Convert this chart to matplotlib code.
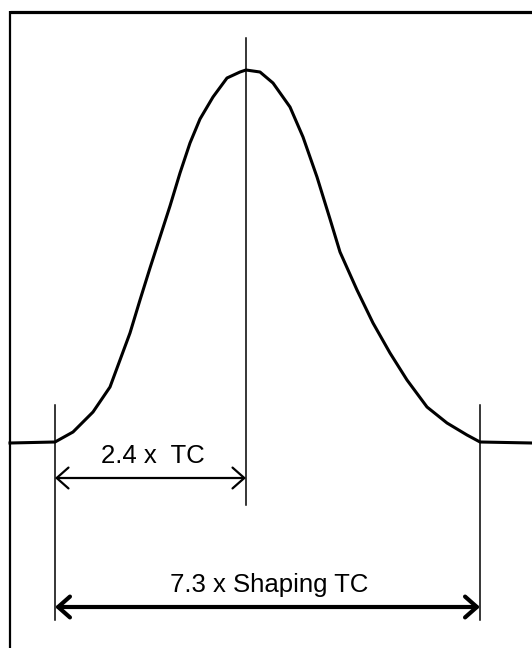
import matplotlib.pyplot as plt
from matplotlib.patches import FancyArrowPatch

# pulse outline (pixel-like units, y grows downwards)
pulse_x = [10, 55, 73, 93, 110, 120, 130, 140, 150, 160, 170, 180, 190,
           200, 213, 227, 240, 246, 260, 273, 290, 303, 317, 330, 340,
           357, 373, 390, 407, 427, 447, 467, 480, 532]
pulse_y = [443, 442, 432, 412, 387, 360, 333, 300, 268, 237, 206, 173,
           143, 119, 97, 78, 72, 70, 72, 83, 107, 137, 177, 219, 252,
           290, 323, 353, 380, 407, 423, 435, 442, 443]

# marker lines: x, top, bottom
markers_x = [55, 246, 480]
markers_top = [405, 38, 405]
markers_bottom = [620, 505, 620]

# dimension arrows: start, end, height, label
dim_start = [55, 55]
dim_end = [246, 480]
dim_y = [478, 607]
dim_labels = ['2.4 x  TC', '7.3 x Shaping TC']
dim_width = [1.6, 3.0]


def main():
    fig = plt.figure(figsize=(5.32, 6.48), dpi=100)
    ax = fig.add_axes([0, 0, 1, 1])
    ax.set_xlim(0, 532)
    ax.set_ylim(648, 0)
    ax.axis('off')

    # frame (top and left edges only, the rest is cut off)
    ax.plot([10, 532], [12, 12], color='black', lw=2.3,
            solid_capstyle='butt')
    ax.plot([10, 10], [11, 648], color='black', lw=1.6,
            solid_capstyle='butt')

    ax.plot(pulse_x, pulse_y, color='black', lw=2.2,
            solid_joinstyle='round')

    for x, top, bottom in zip(markers_x, markers_top, markers_bottom):
        ax.plot([x, x], [top, bottom], color='black', lw=1.1)

    for x0, x1, y, label, w in zip(dim_start, dim_end, dim_y,
                                   dim_labels, dim_width):
        arrow = FancyArrowPatch(
            (x0, y), (x1, y),
            arrowstyle='<->,head_length=0.85,head_width=0.75',
            mutation_scale=10, lw=w, color='black',
            shrinkA=0, shrinkB=0
        )
        ax.add_patch(arrow)
        ax.text((x0 + x1) / 2 + 2, y - 15, label, ha='center',
                va='baseline', fontsize=18.5, family='Liberation Sans')

    fig.savefig('out.png', dpi=100)


if __name__ == "__main__":
    main()
